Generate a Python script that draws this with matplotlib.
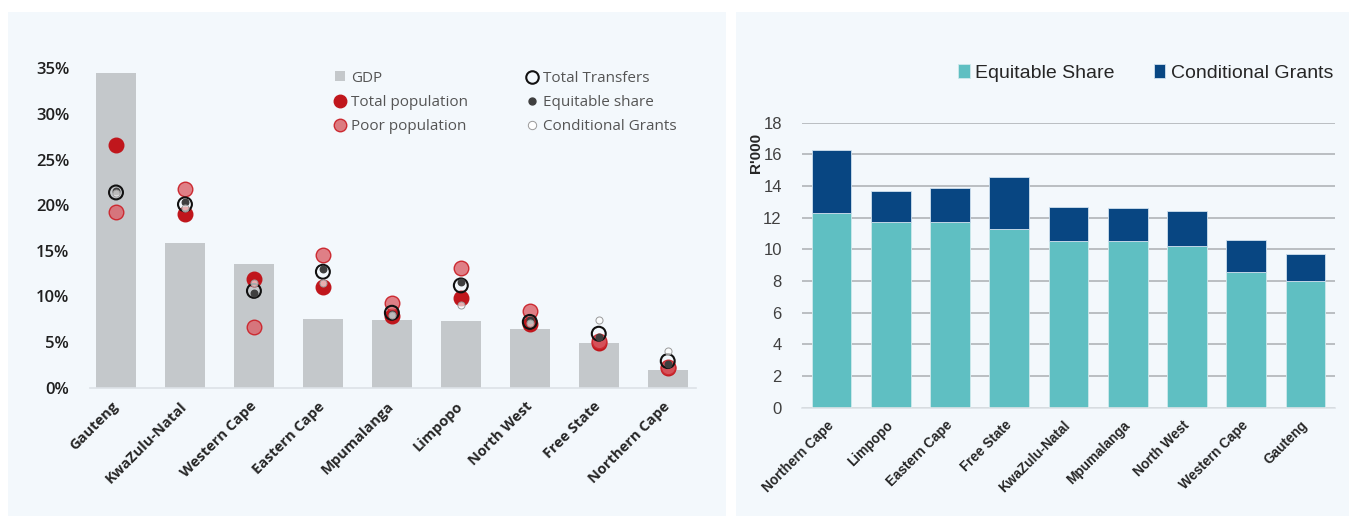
import numpy as np
import matplotlib
matplotlib.use("Agg")
import matplotlib.pyplot as plt
from matplotlib.lines import Line2D
from matplotlib.patches import Rectangle
from matplotlib.ticker import FuncFormatter

plt.rcParams['font.family'] = ['Open Sans', 'DejaVu Sans']

# shares by province (%)
provinces = ['Gauteng', 'KwaZulu-Natal', 'Western Cape', 'Eastern Cape', 'Mpumalanga',
             'Limpopo', 'North West', 'Free State', 'Northern Cape']
gdp = [34.5, 15.8, 13.6, 7.5, 7.4, 7.3, 6.4, 4.9, 1.9]
total_pop = [26.6, 19.0, 11.9, 11.0, 7.8, 9.8, 7.0, 4.9, 2.1]
poor_pop = [19.3, 21.8, 6.6, 14.5, 9.3, 13.1, 8.4, 5.1, 2.3]
total_transfers = [21.4, 20.1, 10.6, 12.7, 8.2, 11.2, 7.2, 5.9, 2.9]
equitable_pct = [21.6, 20.3, 10.4, 13.0, 8.1, 11.6, 7.4, 5.5, 2.6]
conditional_pct = [21.3, 19.7, 11.5, 11.5, 7.9, 9.1, 7.1, 7.4, 4.0]

# per capita transfers (R'000)
prov_pc = ['Northern Cape', 'Limpopo', 'Eastern Cape', 'Free State', 'KwaZulu-Natal',
           'Mpumalanga', 'North West', 'Western Cape', 'Gauteng']
eq_share = [12.3, 11.7, 11.7, 11.3, 10.5, 10.5, 10.2, 8.6, 8.0]
cond_grants = [4.0, 2.0, 2.2, 3.3, 2.2, 2.1, 2.2, 2.0, 1.7]

panel_bg = '#f3f8fc'
W, H = 1349, 516

fig = plt.figure(figsize=(W / 100, H / 100), dpi=100)
fig.patch.set_facecolor('white')
fig.add_artist(Rectangle((8 / W, 0), 718 / W, 504 / H, transform=fig.transFigure,
                         facecolor=panel_bg, edgecolor='none', zorder=0))
fig.add_artist(Rectangle((736 / W, 0), 613 / W, 504 / H, transform=fig.transFigure,
                         facecolor=panel_bg, edgecolor='none', zorder=0))

# ---- left: shares ----
ax1 = fig.add_axes([90 / W, 128.5 / H, 606 / W, 319 / H])
ax1.set_facecolor('none')
x = np.arange(len(provinces))
ax1.bar(x, gdp, width=0.58, color='#c4c8cb', zorder=1)
ax1.scatter(x, total_pop, s=110, color='#c0161c', edgecolors='#c0161c', zorder=3)
ax1.scatter(x, poor_pop, s=110, facecolor=(0.86, 0.38, 0.41, 0.8),
            edgecolors='#cc2a31', linewidths=1, zorder=3)
ax1.scatter(x, total_transfers, s=100, facecolor='none', edgecolors='#111111',
            linewidths=1.5, zorder=4)
ax1.scatter(x, equitable_pct, s=22, color='#3f3f3f', zorder=5)
ax1.scatter(x, conditional_pct, s=26, facecolor=(1, 1, 1, 0.65),
            edgecolors='#9a9a9a', linewidths=0.7, zorder=5)

ax1.set_xlim(-0.377, 8.41)
ax1.set_ylim(0, 35)
ax1.set_yticks(np.arange(0, 36, 5))
ax1.yaxis.set_major_formatter(FuncFormatter(lambda v, p: f'{v:.0f}%'))
ax1.set_xticks(x)
ax1.set_xticklabels(provinces, rotation=45, ha='right', va='center',
                    rotation_mode='anchor', fontsize=10.5, fontweight='bold',
                    color='#262626')
for lab in ax1.get_yticklabels():
    lab.set_fontsize(12)
    lab.set_color('#1f1f1f')
    lab.set_fontweight('semibold')
ax1.tick_params(axis='x', length=0, pad=12)
ax1.tick_params(axis='y', length=0, pad=15)
for s in ['top', 'right', 'left']:
    ax1.spines[s].set_visible(False)
ax1.spines['bottom'].set_color('#dde2e7')
ax1.spines['bottom'].set_linewidth(1.2)

handles = [
    Rectangle((0, 0), 1, 1, facecolor='#c4c8cb'),
    Line2D([], [], ls='none', marker='o', ms=9, color='#c0161c'),
    Line2D([], [], ls='none', marker='o', ms=9, markerfacecolor='#dc7b80',
           markeredgecolor='#cc2a31'),
    Line2D([], [], ls='none', marker='o', ms=9, markerfacecolor='none',
           markeredgecolor='#111111', markeredgewidth=1.5),
    Line2D([], [], ls='none', marker='o', ms=5, color='#3f3f3f'),
    Line2D([], [], ls='none', marker='o', ms=6, markerfacecolor='white',
           markeredgecolor='#9a9a9a', markeredgewidth=0.7),
]
labels = ['GDP', 'Total population', 'Poor population',
          'Total Transfers', 'Equitable share', 'Conditional Grants']
leg1 = ax1.legend(handles, labels, ncol=2, loc='upper left',
                  bbox_to_anchor=(0.381, 1.036), frameon=False, fontsize=11,
                  handlelength=0.65, handleheight=0.65, handletextpad=0.4,
                  columnspacing=3.9, labelspacing=0.6, labelcolor='#555555')

# ---- right: per capita transfers ----
ax2 = fig.add_axes([802 / W, 108.3 / H, 533 / W, 285 / H])
ax2.set_facecolor('none')
xr = np.arange(len(prov_pc))
ax2.bar(xr, eq_share, width=0.67, color='#5fbfc2', edgecolor='#cfe9ec',
        linewidth=0.6, label='Equitable Share', zorder=2)
ax2.bar(xr, cond_grants, width=0.67, bottom=eq_share, color='#084682',
        edgecolor='#cfe0ee', linewidth=0.6, label='Conditional Grants', zorder=2)
ax2.set_xlim(-0.5, 8.5)
ax2.set_ylim(0, 18)
ax2.set_yticks(np.arange(0, 19, 2))
ax2.yaxis.grid(True, color='#b0b4b8', linewidth=1.2)
ax2.set_axisbelow(True)
ax2.set_xticks(xr)
ax2.set_xticklabels(prov_pc, rotation=45, ha='right', va='center',
                    rotation_mode='anchor', fontsize=9.8, fontweight='bold',
                    color='#262626', family='Liberation Sans')
for lab in ax2.get_yticklabels():
    lab.set_fontsize(12)
    lab.set_color('#404040')
    lab.set_family('Liberation Sans')
ax2.tick_params(axis='x', length=0, pad=11)
ax2.tick_params(axis='y', length=0, pad=14.5)
for s in ['top', 'right', 'left']:
    ax2.spines[s].set_visible(False)
ax2.spines['bottom'].set_color('#dde2e7')
ax2.spines['bottom'].set_linewidth(1.2)
ax2.set_ylabel("R'000", fontsize=11, fontweight='bold', color='#262626',
               family='Liberation Sans', labelpad=0, y=0.894)
ax2.legend(ncol=2, loc='center', bbox_to_anchor=(0.645, 1.175), frameon=False,
           prop={'family': 'Liberation Sans', 'size': 14},
           handlelength=0.6, handleheight=0.7, handletextpad=0.3,
           columnspacing=2.0, labelcolor='#262626')

fig.savefig('out.png', dpi=100, facecolor='white')
